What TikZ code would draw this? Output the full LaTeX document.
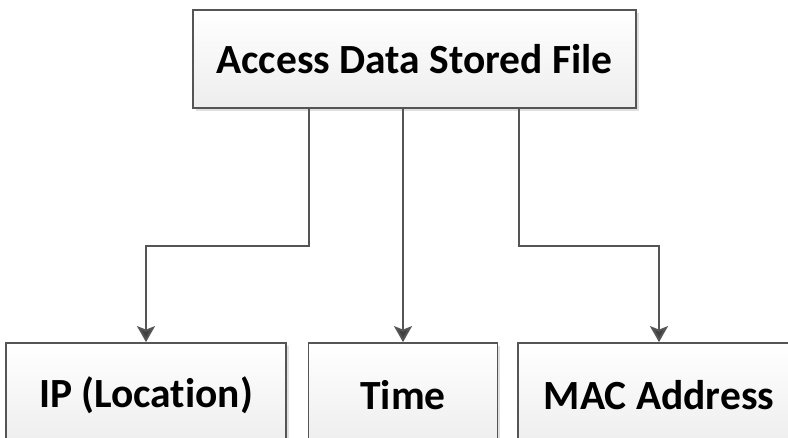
\documentclass[tikz,border=0pt]{standalone}
\usepackage{fontspec}
\setmainfont{Carlito}[Ligatures=NoCommon]
\usetikzlibrary{arrows.meta,shadows,positioning}
\definecolor{boxline}{RGB}{85,85,85}
\definecolor{tipgray}{RGB}{64,64,64}

\begin{document}
\begin{tikzpicture}[x=1pt, y=-1pt]
    % Define styles
    \tikzset{
      databox/.style={rectangle, draw=boxline, line width=1.8pt, top color=white, bottom color=black!7, minimum height=98pt, font=\fontsize{41.5}{48}\selectfont\bfseries, drop shadow={shadow xshift=2.5pt, shadow yshift=-2.5pt, fill=black!20, opacity=0.6}},
      arrow/.style={line width=2pt, draw=boxline, -{Stealth[length=16pt, width=18pt, inset=3.5pt, fill=tipgray]}}
    }
    \useasboundingbox (0,0) rectangle (788,437);
    \clip (0,0) rectangle (788,437);

    % Nodes
    \node (file) [databox, minimum width=443pt] at (414.5,59) {Access Data Stored File};
    \node (ip) [databox, minimum width=280pt, minimum height=104pt] at (146,395) {IP (Location)};
    \node (time) [databox, minimum width=189pt, minimum height=104pt] at (403,395) {Time};
    \node (mac) [databox, minimum width=282pt, minimum height=104pt] at (659,395) {MAC Address};
    \coordinate (bend) at (0,246);

    % Arrows
    \draw [arrow] ([xshift=-105.5pt]file.south) -- ([xshift=-105.5pt]file.south |- bend) -| (ip.north);
    \draw [arrow] (file.south -| time.north) -- (time.north);
    \draw [arrow] ([xshift=104.5pt]file.south) -- ([xshift=104.5pt]file.south |- bend) -| (mac.north);
\end{tikzpicture}
\end{document}
